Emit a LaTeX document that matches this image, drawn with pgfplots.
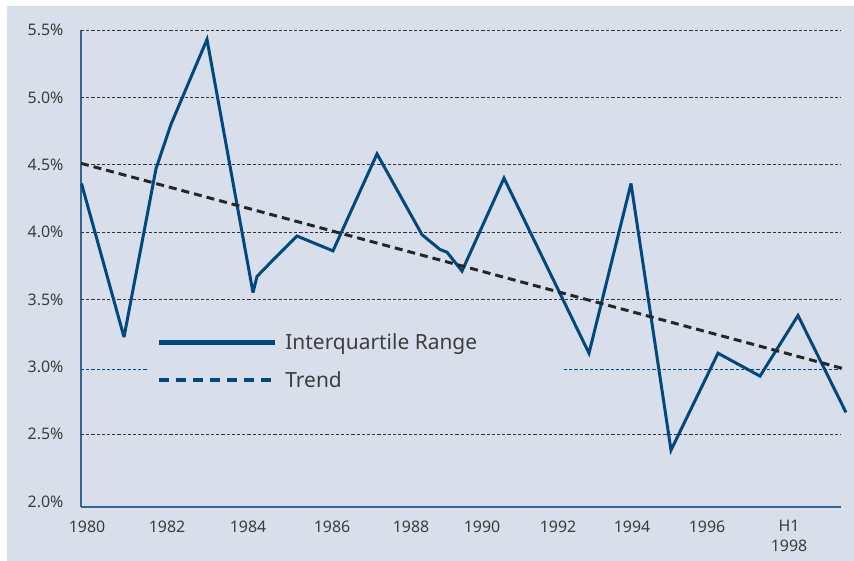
\documentclass[border=0pt]{standalone}
\usepackage{pgfplots}
\pgfplotsset{compat=1.18}
\usepackage{fontspec}
\setmainfont{Noto Sans}
\definecolor{bg}{RGB}{217,223,234}
\definecolor{navy}{RGB}{0,72,125}
\definecolor{axblue}{RGB}{55,100,145}
\definecolor{txt}{RGB}{60,60,60}
\definecolor{grd}{RGB}{50,50,50}
\begin{document}
\begin{tikzpicture}[x=1bp,y=1bp]
\fill[white] (0,0) rectangle (854,-561);
\fill[bg] (7,-6) rectangle (854,-561);
\begin{axis}[
  at={(81bp,-507bp)}, anchor=south west,
  scale only axis, width=760bp, height=477bp,
  xmin=81, xmax=841, ymin=1.958, ymax=5.5,
  clip=false,
  axis x line=bottom, axis y line=left,
  axis line style={axblue, line width=1.2bp, -},
  major tick length=0pt,
  xtick={87,167,248,332,411,482,558,632,707,789},
  xticklabels={1980,1982,1984,1986,1988,1990,1992,1994,1996,{H1\\1998}},
  ytick={2,2.5,3,3.5,4,4.5,5,5.5},
  yticklabel={\pgfmathprintnumber[fixed,fixed zerofill,precision=1]{\tick}\%},
  /pgf/number format/assume math mode=true,
  tick label style={font=\fontsize{16}{20}\selectfont, text=txt},
  xticklabel style={align=center, yshift=-10bp},
  yticklabel style={xshift=-14bp},
  extra y ticks={2.5,3.5,4,4.5,5,5.5},
  extra y tick labels={},
  extra y tick style={grid=major},
  major grid style={grd, line width=0.8bp, dash pattern=on 3.2bp off 2bp},
  legend style={draw=none, fill=none, inner sep=0pt, at={(axis cs:157,3.26)}, anchor=north west,
    font=\fontsize{21}{25}\selectfont, text=txt, row sep=16bp,
    nodes={inner sep=2bp},
    /tikz/every odd column/.append style={column sep=6bp}},
  legend cell align=left,
  legend image code/.code={\draw[#1] (0bp,0bp) -- (116bp,0bp);},
]
\draw[navy, line width=0.7bp, dash pattern=on 3.2bp off 2bp] (axis cs:81,2.98) -- (axis cs:148,2.98);
\draw[navy, line width=0.7bp, dash pattern=on 3.2bp off 2bp] (axis cs:564,2.98) -- (axis cs:841,2.98);
\addplot[navy, line width=3bp, line join=miter, miter limit=4, forget plot] coordinates {
(81.5,4.36) (124,3.22) (156,4.47) (171,4.80) (207,5.43) (253,3.55) (257,3.67)
(274,3.80) (297,3.97) (333,3.86) (377,4.58) (422,3.98) (440,3.87) (447,3.85)
(462,3.71) (504,4.40) (589,3.10) (631,4.36) (671,2.38) (718,3.10) (760,2.93)
(798,3.38) (846,2.66)};
\addlegendimage{navy, line width=4.2bp}
\addlegendentry{Interquartile Range}
\addlegendimage{navy, line width=4.2bp, dash pattern=on 10bp off 7bp}
\addlegendentry{Trend}
\addplot[black!85, line width=3bp, dash pattern=on 8bp off 5bp, forget plot] coordinates {(81,4.51) (846,2.98)};
\end{axis}
\end{tikzpicture}
\end{document}
